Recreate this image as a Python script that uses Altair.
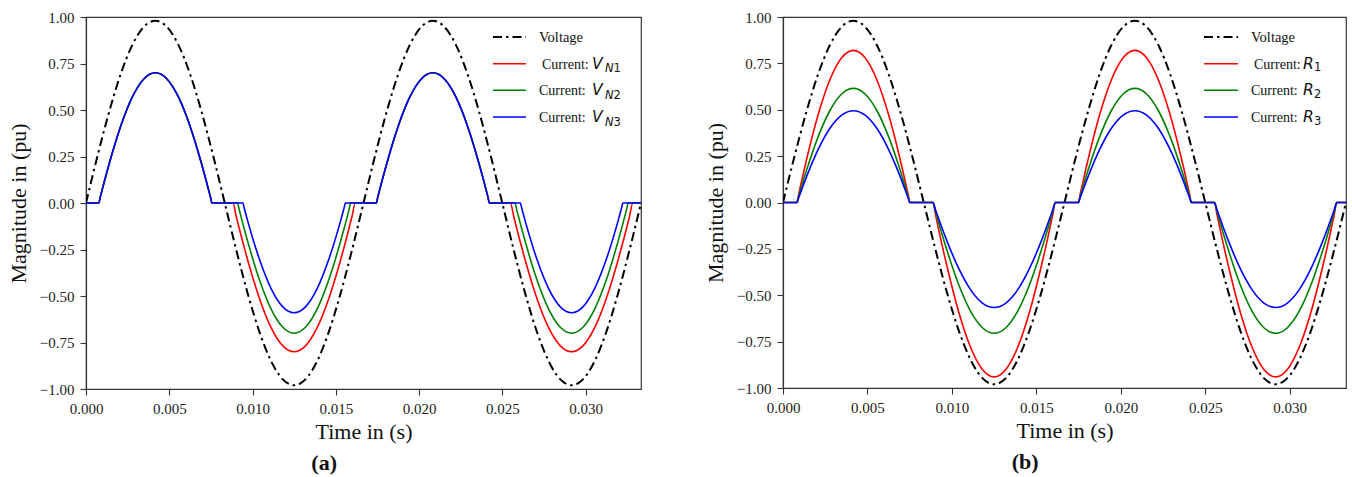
import altair as alt
import pandas as pd

# ---------------- data ----------------
# time grid used for the supply voltage (s)
T_V = [0, 0.000694, 0.001389, 0.002083, 0.002778, 0.003472, 0.004167, 0.004861, 0.005556,
       0.00625, 0.006944, 0.007639, 0.008333, 0.009028, 0.009722, 0.010417, 0.011111, 0.011806,
       0.0125, 0.013194, 0.013889, 0.014583, 0.015278, 0.015972, 0.016667, 0.017361, 0.018056,
       0.01875, 0.019444, 0.020139, 0.020833, 0.021528, 0.022222, 0.022917, 0.023611, 0.024306,
       0.025, 0.025694, 0.026389, 0.027083, 0.027778, 0.028472, 0.029167, 0.029861, 0.030556,
       0.03125, 0.031944, 0.032639, 0.033333]
V_A = [0, 0.254, 0.49, 0.693, 0.849, 0.947, 0.98, 0.947, 0.849, 0.693, 0.49, 0.254, 0,
       -0.254, -0.49, -0.693, -0.849, -0.947, -0.98, -0.947, -0.849, -0.693, -0.49, -0.254, 0,
       0.254, 0.49, 0.693, 0.849, 0.947, 0.98, 0.947, 0.849, 0.693, 0.49, 0.254, 0,
       -0.254, -0.49, -0.693, -0.849, -0.947, -0.98, -0.947, -0.849, -0.693, -0.49, -0.254, 0]
V_B = [0, 0.254, 0.49, 0.693, 0.849, 0.947, 0.98, 0.947, 0.849, 0.693, 0.49, 0.254, 0,
       -0.254, -0.49, -0.693, -0.849, -0.947, -0.98, -0.947, -0.849, -0.693, -0.49, -0.254, 0,
       0.254, 0.49, 0.693, 0.849, 0.947, 0.98, 0.947, 0.849, 0.693, 0.49, 0.254, 0,
       -0.254, -0.49, -0.693, -0.849, -0.947, -0.98, -0.947, -0.849, -0.693, -0.49, -0.254, 0]

# panel (a): currents for V_N1, V_N2, V_N3
T_A1 = [0, 0.000769, 0.000861, 0.001389, 0.002083, 0.002778, 0.003472, 0.004167, 0.004861,
        0.005556, 0.00625, 0.006944, 0.007472, 0.007565,
        0.008824, 0.009028, 0.009722, 0.010417, 0.011111, 0.011806, 0.0125, 0.013194, 0.013889,
        0.014583, 0.015278, 0.015972, 0.016176,
        0.017436, 0.017528, 0.018056, 0.01875, 0.019444, 0.020139, 0.020833, 0.021528, 0.022222,
        0.022917, 0.023611, 0.024139, 0.024231,
        0.02549, 0.025694, 0.026389, 0.027083, 0.027778, 0.028472, 0.029167, 0.029861, 0.030556,
        0.03125, 0.031944, 0.032639, 0.032843, 0.033333]
I_A1 = [0, 0, 0.033, 0.21, 0.413, 0.569, 0.667, 0.70, 0.667, 0.569, 0.413, 0.21, 0.033, 0,
        0, -0.074, -0.31, -0.513, -0.669, -0.767, -0.80, -0.767, -0.669, -0.513, -0.31, -0.074, 0,
        0, 0.033, 0.21, 0.413, 0.569, 0.667, 0.70, 0.667, 0.569, 0.413, 0.21, 0.033, 0,
        0, -0.074, -0.31, -0.513, -0.669, -0.767, -0.80, -0.767, -0.669, -0.513, -0.31, -0.074, 0, 0]
T_A2 = [0, 0.000769, 0.000861, 0.001389, 0.002083, 0.002778, 0.003472, 0.004167, 0.004861,
        0.005556, 0.00625, 0.006944, 0.007472, 0.007565,
        0.009102, 0.009194, 0.009722, 0.010417, 0.011111, 0.011806, 0.0125, 0.013194, 0.013889,
        0.014583, 0.015278, 0.015806, 0.015898,
        0.017436, 0.017528, 0.018056, 0.01875, 0.019444, 0.020139, 0.020833, 0.021528, 0.022222,
        0.022917, 0.023611, 0.024139, 0.024231,
        0.025769, 0.025861, 0.026389, 0.027083, 0.027778, 0.028472, 0.029167, 0.029861, 0.030556,
        0.03125, 0.031944, 0.032472, 0.032565, 0.033333]
I_A2 = [0, 0, 0.033, 0.21, 0.413, 0.569, 0.667, 0.70, 0.667, 0.569, 0.413, 0.21, 0.033, 0,
        0, -0.033, -0.21, -0.413, -0.569, -0.667, -0.70, -0.667, -0.569, -0.413, -0.21, -0.033, 0,
        0, 0.033, 0.21, 0.413, 0.569, 0.667, 0.70, 0.667, 0.569, 0.413, 0.21, 0.033, 0,
        0, -0.033, -0.21, -0.413, -0.569, -0.667, -0.70, -0.667, -0.569, -0.413, -0.21, -0.033, 0, 0]
T_A3 = [0, 0.000769, 0.000861, 0.001389, 0.002083, 0.002778, 0.003472, 0.004167, 0.004861,
        0.005556, 0.00625, 0.006944, 0.007472, 0.007565,
        0.009419, 0.009512, 0.009722, 0.010417, 0.011111, 0.011806, 0.0125, 0.013194, 0.013889,
        0.014583, 0.015278, 0.015488, 0.015581,
        0.017436, 0.017528, 0.018056, 0.01875, 0.019444, 0.020139, 0.020833, 0.021528, 0.022222,
        0.022917, 0.023611, 0.024139, 0.024231,
        0.026086, 0.026179, 0.026389, 0.027083, 0.027778, 0.028472, 0.029167, 0.029861, 0.030556,
        0.03125, 0.031944, 0.032155, 0.032248, 0.033333]
I_A3 = [0, 0, 0.033, 0.21, 0.413, 0.569, 0.667, 0.70, 0.667, 0.569, 0.413, 0.21, 0.033, 0,
        0, -0.031, -0.10, -0.303, -0.459, -0.557, -0.59, -0.557, -0.459, -0.303, -0.10, -0.031, 0,
        0, 0.033, 0.21, 0.413, 0.569, 0.667, 0.70, 0.667, 0.569, 0.413, 0.21, 0.033, 0,
        0, -0.031, -0.10, -0.303, -0.459, -0.557, -0.59, -0.557, -0.459, -0.303, -0.10, -0.031, 0, 0]

# panel (b): currents for R1, R2, R3 (shared time points)
T_B = [0, 0.000824, 0.000917, 0.001389, 0.002083, 0.002778, 0.003472, 0.004167, 0.004861,
       0.005556, 0.00625, 0.006944, 0.007417, 0.00751,
       0.008879, 0.009028, 0.009722, 0.010417, 0.011111, 0.011806, 0.0125, 0.013194, 0.013889,
       0.014583, 0.015278, 0.015972, 0.016121,
       0.017491, 0.017583, 0.018056, 0.01875, 0.019444, 0.020139, 0.020833, 0.021528, 0.022222,
       0.022917, 0.023611, 0.024083, 0.024176,
       0.025545, 0.025694, 0.026389, 0.027083, 0.027778, 0.028472, 0.029167, 0.029861, 0.030556,
       0.03125, 0.031944, 0.032639, 0.032788, 0.033333]
I_B1 = [0, 0, 0.039, 0.229, 0.474, 0.662, 0.780, 0.82, 0.780, 0.662, 0.474, 0.229, 0.039, 0,
        0, -0.065, -0.349, -0.594, -0.782, -0.900, -0.94, -0.900, -0.782, -0.594, -0.349, -0.065, 0,
        0, 0.039, 0.229, 0.474, 0.662, 0.780, 0.82, 0.780, 0.662, 0.474, 0.229, 0.039, 0,
        0, -0.065, -0.349, -0.594, -0.782, -0.900, -0.94, -0.900, -0.782, -0.594, -0.349, -0.065, 0, 0]
I_B2 = [0, 0, 0.029, 0.172, 0.355, 0.496, 0.585, 0.615, 0.585, 0.496, 0.355, 0.172, 0.029, 0,
        0, -0.049, -0.262, -0.446, -0.587, -0.675, -0.705, -0.675, -0.587, -0.446, -0.262, -0.049, 0,
        0, 0.029, 0.172, 0.355, 0.496, 0.585, 0.615, 0.585, 0.496, 0.355, 0.172, 0.029, 0,
        0, -0.049, -0.262, -0.446, -0.587, -0.675, -0.705, -0.675, -0.587, -0.446, -0.262, -0.049, 0, 0]
I_B3 = [0, 0, 0.023, 0.138, 0.286, 0.400, 0.471, 0.495, 0.471, 0.400, 0.286, 0.138, 0.023, 0,
        0, -0.039, -0.211, -0.358, -0.471, -0.542, -0.566, -0.542, -0.471, -0.358, -0.211, -0.039, 0,
        0, 0.023, 0.138, 0.286, 0.400, 0.471, 0.495, 0.471, 0.400, 0.286, 0.138, 0.023, 0,
        0, -0.039, -0.211, -0.358, -0.471, -0.542, -0.566, -0.542, -0.471, -0.358, -0.211, -0.039, 0, 0]

X_TICKS = [0, 0.005, 0.01, 0.015, 0.02, 0.025, 0.03]
Y_TICKS = [-1, -0.75, -0.5, -0.25, 0, 0.25, 0.5, 0.75, 1]
X_MAX = 0.033333

SUBS_A = ["N1", "N2", "N3"]
SUBS_B = ["1", "2", "3"]
COLORS = ["#ff0000", "#008000", "#0000ff"]

# ---------------- styling ----------------
SERIF = "Liberation Serif"
MATH = "DejaVu Sans"
DASH = [9, 4, 2.5, 4]
TEXT = "#111111"

def xenc():
    return alt.X("t:Q", scale=alt.Scale(domain=[0, X_MAX], nice=False, zero=False),
                 axis=alt.Axis(values=X_TICKS, format=".3f", title="Time in (s)"))

def yenc():
    return alt.Y("y:Q", scale=alt.Scale(domain=[-1, 1], nice=False, zero=False),
                 axis=alt.Axis(values=Y_TICKS, format=".2f", title="Magnitude in (pu)"))

def line(t, y, color, width=1.6, dash=None):
    kw = dict(color=color, strokeWidth=width, interpolate="monotone", clip=True)
    if dash:
        kw["strokeDash"] = dash
    return alt.Chart(pd.DataFrame({"t": t, "y": y})).mark_line(**kw).encode(x=xenc(), y=yenc())

ONE = pd.DataFrame({"k": [0]})

def rule(x1, x2, y, color, dash=None, width=1.6):
    kw = dict(color=color, strokeWidth=width)
    if dash:
        kw["strokeDash"] = dash
    return alt.Chart(ONE).mark_rule(**kw).encode(x=alt.value(x1), x2=alt.value(x2), y=alt.value(y))

def label(x, y, text, font=SERIF, size=14, style="normal"):
    return alt.Chart(ONE).mark_text(text=text, font=font, fontSize=size, fontStyle=style,
                                    align="left", baseline="alphabetic", color=TEXT).encode(
        x=alt.value(x), y=alt.value(y))

ROWS = [20, 46.7, 73.3, 100]

def legend(line_x1, line_x2, text_x, cur_x, sym_x, sym, sub_x, subs, italic_sub_letter):
    layers = [rule(line_x1, line_x2, ROWS[0], "black", DASH, 2.0),
              label(text_x, ROWS[0] + 5, "Voltage", size=14.5)]
    for i in range(3):
        r = ROWS[i + 1]
        layers.append(rule(line_x1, line_x2, r, COLORS[i]))
        layers.append(label(cur_x[i], r + 5, "Current:"))
        layers.append(label(sym_x, r + 5, sym, MATH, 15.5, "italic"))
        s = subs[i]
        if italic_sub_letter:
            layers.append(label(sub_x, r + 8.5, s[0], MATH, 11.5, "italic"))
            layers.append(label(sub_x + 8.6, r + 8.5, s[1:], MATH, 11.5))
        else:
            layers.append(label(sub_x, r + 7.5, s, MATH, 11.5))
    return layers

W_A, H_A = 555, 372
W_B, H_B = 563, 371

def caption(txt):
    return alt.TitleParams(txt, orient="bottom", anchor="middle", frame="bounds", font=SERIF,
                           fontSize=22, fontWeight="bold", color=TEXT, offset=11)

panel_a = alt.layer(
    line(T_V, V_A, "black", 2.0, DASH),
    line(T_A1, I_A1, COLORS[0]),
    line(T_A2, I_A2, COLORS[1]),
    line(T_A3, I_A3, COLORS[2]),
    *legend(407, 440, 453, [456, 453, 453], 506, "V", 519, SUBS_A, True),
).properties(width=W_A, height=H_A, title=caption("(a)"))

panel_b = alt.layer(
    line(T_V, V_B, "black", 2.0, DASH),
    line(T_B, I_B1, COLORS[0]),
    line(T_B, I_B2, COLORS[1]),
    line(T_B, I_B3, COLORS[2]),
    *legend(421, 455, 468, [471, 468, 468], 520, "R", 531, SUBS_B, False),
).properties(width=W_B, height=H_B, title=caption("(b)"))

chart = alt.hconcat(panel_a, panel_b, spacing=61).properties(
    padding={"left": 6, "top": 9, "right": 0, "bottom": 0},
    background="white",
).configure_view(
    stroke="#333333", strokeWidth=1.2
).configure_axis(
    domainColor="#333333", domainWidth=1.2, tickColor="#333333", tickSize=6, tickWidth=1.1,
    labelFont=SERIF, labelFontSize=15, labelColor="#222222", labelFlush=False,
    titleFont=SERIF, titleFontSize=22, titleFontWeight="normal", titleColor=TEXT, grid=False,
).configure_axisY(titlePadding=9, labelPadding=6).configure_axisX(titlePadding=5, labelPadding=6)

chart.save("out.html", embed_options={"renderer": "svg", "actions": False})
